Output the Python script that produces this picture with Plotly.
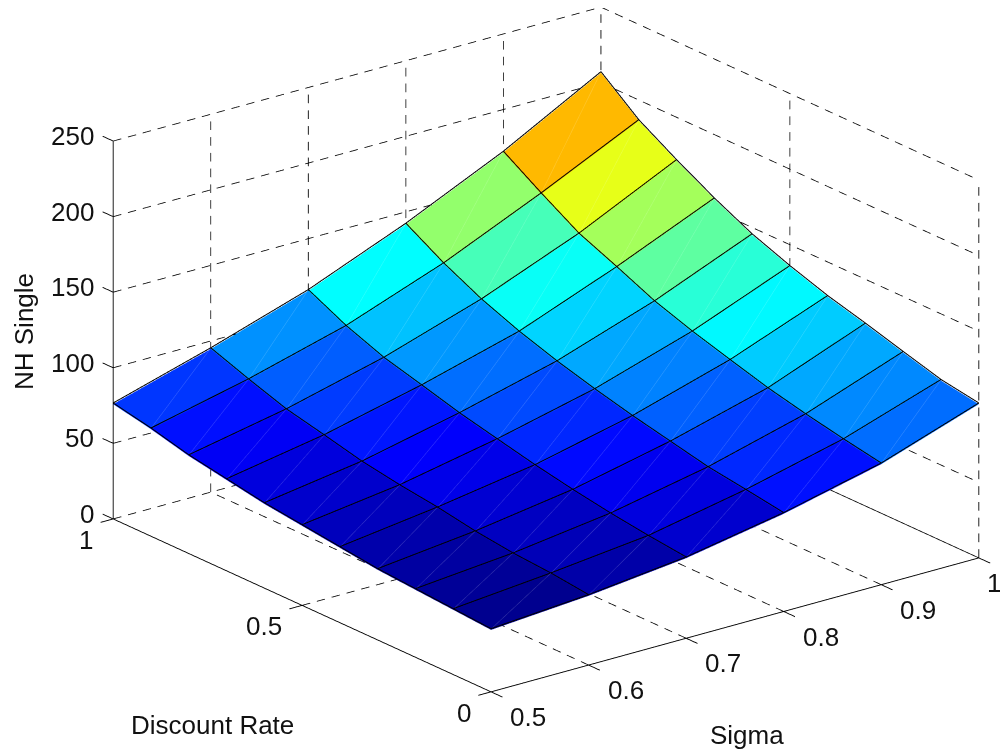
import math
import plotly.graph_objects as go

sigma = [0.5, 0.6, 0.7, 0.8, 0.9, 1.0]
discount_rate = [0.0, 0.1, 0.2, 0.3, 0.4, 0.5, 0.6, 0.7, 0.8, 0.9, 1.0]
nh_sigma_05 = [41.0, 42.8, 44.6, 46.4, 49.5, 52.6, 55.7, 60.1, 64.5, 70.8, 75.9]
nh_sigma_06 = [45.8, 48.7, 50.5, 53.6, 58.0, 61.3, 65.5, 71.5, 77.2, 85.6, 94.7]
nh_sigma_07 = [53.0, 55.8, 59.2, 63.4, 68.3, 74.0, 79.8, 86.8, 93.6, 103.2, 115.5]
nh_sigma_08 = [64.6, 68.5, 72.1, 77.6, 83.1, 89.4, 96.4, 104.6, 114.5, 126.9, 141.7]
nh_sigma_09 = [79.7, 84.3, 89.4, 95.2, 102.4, 109.8, 118.4, 129.6, 140.3, 155.5, 171.6]
nh_sigma_10 = [101.7, 105.8, 112.9, 120.2, 127.0, 135.4, 145.0, 157.3, 171.2, 186.2, 206.5]
columns = [nh_sigma_05, nh_sigma_06, nh_sigma_07, nh_sigma_08, nh_sigma_09, nh_sigma_10]

sigma_ticks = [0.5, 0.6, 0.7, 0.8, 0.9, 1.0]
sigma_tick_labels = ["0.5", "0.6", "0.7", "0.8", "0.9", "1"]
rate_ticks = [0.0, 0.5, 1.0]
rate_tick_labels = ["0", "0.5", "1"]
nh_ticks = [0, 50, 100, 150, 200, 250]
nh_tick_labels = ["0", "50", "100", "150", "200", "250"]

jet_stops = [(0, (0, 0, 143)), (0.125, (0, 0, 255)), (0.375, (0, 255, 255)),
             (0.625, (255, 255, 0)), (0.875, (255, 0, 0)), (1, (128, 0, 0))]
jet = [[p, "rgb(%d,%d,%d)" % c] for p, c in jet_stops]

FONT = "Liberation Sans, Arial, sans-serif"
W, H = 1008, 744
BOX = 617 / 372  # scene units for the sigma and discount-rate edges
PERIOD = 15.5


def jet_rgb(f):
    for (p0, c0), (p1, c1) in zip(jet_stops, jet_stops[1:]):
        if f <= p1:
            t = (f - p0) / (p1 - p0)
            return [c0[i] + (c1[i] - c0[i]) * t for i in range(3)]
    return list(jet_stops[-1][1])


def screen_len(p, q):
    ds, dd, dz = q[0] - p[0], q[1] - p[1], q[2] - p[2]
    return math.hypot(976 * ds - 378 * dd, 268 * ds + 173 * dd + 1.512 * dz)


def add_dashed(xs, ys, zs, p, q):
    n = max(1, round(screen_len(p, q) / PERIOD))
    for i in range(n):
        t0 = i / n
        t1 = (i + 0.55) / n
        for t in (t0, t1):
            xs.append(p[0] + (q[0] - p[0]) * t)
            ys.append(p[1] + (q[1] - p[1]) * t)
            zs.append(p[2] + (q[2] - p[2]) * t)
        xs.append(None); ys.append(None); zs.append(None)


def add_solid(xs, ys, zs, p, q):
    xs += [p[0], q[0], None]
    ys += [p[1], q[1], None]
    zs += [p[2], q[2], None]


# surface
ns, nd = len(sigma), len(discount_rate)
vx, vy, vz = [], [], []
for a in range(ns):
    for b in range(nd):
        vx.append(sigma[a]); vy.append(discount_rate[b]); vz.append(columns[a][b])
idx = lambda a, b: a * nd + b
ti, tj, tk, cell = [], [], [], []
for a in range(ns - 1):
    for b in range(nd - 1):
        ti += [idx(a, b), idx(a, b)]
        tj += [idx(a + 1, b), idx(a + 1, b + 1)]
        tk += [idx(a + 1, b + 1), idx(a, b + 1)]
        cell += [columns[a][b], columns[a][b]]

zmin = min(min(c) for c in columns)
zmax = max(max(c) for c in columns)

surface = go.Mesh3d(x=vx, y=vy, z=vz, i=ti, j=tj, k=tk, intensity=cell, intensitymode="cell",
                    colorscale=jet, cmin=zmin, cmax=zmax, showscale=False, flatshading=True,
                    lighting=dict(ambient=1, diffuse=0, specular=0, roughness=1, fresnel=0),
                    hoverinfo="skip")

LIFT = 0.8
ex, ey, ez = [], [], []
for a in range(ns):
    for b in range(nd - 1):
        add_solid(ex, ey, ez, (sigma[a], discount_rate[b], columns[a][b] + LIFT),
                  (sigma[a], discount_rate[b + 1], columns[a][b + 1] + LIFT))
for b in range(nd):
    for a in range(ns - 1):
        add_solid(ex, ey, ez, (sigma[a], discount_rate[b], columns[a][b] + LIFT),
                  (sigma[a + 1], discount_rate[b], columns[a + 1][b] + LIFT))
edges = go.Scatter3d(x=ex, y=ey, z=ez, mode="lines", line=dict(color="black", width=2), hoverinfo="skip")

# faint seam along each facet, a paler tint of that facet's colour
fx, fy, fz, fc = [], [], [], []
for a in range(ns - 1):
    for b in range(nd - 1):
        add_solid(fx, fy, fz, (sigma[a], discount_rate[b], columns[a][b] + LIFT * 0.7),
                  (sigma[a + 1], discount_rate[b + 1], columns[a + 1][b + 1] + LIFT * 0.7))
        base = jet_rgb((columns[a][b] - zmin) / (zmax - zmin))
        tint = "rgb(%d,%d,%d)" % tuple(0.8 * c + 0.2 * 255 for c in base)
        fc += [tint, tint, tint]
diagonals = go.Scatter3d(x=fx, y=fy, z=fz, mode="lines", line=dict(color=fc, width=1.1), hoverinfo="skip")

# dashed grid on the floor and the two back walls
S0, S1 = sigma_ticks[0], sigma_ticks[-1]
D0, D1 = rate_ticks[0], rate_ticks[-1]
Z0, Z1 = nh_ticks[0], nh_ticks[-1]
gx, gy, gz = [], [], []
for s in sigma_ticks:
    if s != S0:
        add_dashed(gx, gy, gz, (s, D0, Z0), (s, D1, Z0))
        add_dashed(gx, gy, gz, (s, D1, Z0), (s, D1, Z1))
for d in rate_ticks:
    if d != D0:
        add_dashed(gx, gy, gz, (S0, d, Z0), (S1, d, Z0))
    add_dashed(gx, gy, gz, (S1, d, Z0), (S1, d, Z1))
for v in nh_ticks:
    add_dashed(gx, gy, gz, (S0, D1, v), (S1, D1, v))
    add_dashed(gx, gy, gz, (S1, D1, v), (S1, D0, v))
grid = go.Scatter3d(x=gx, y=gy, z=gz, mode="lines", line=dict(color="#000000", width=1.6), hoverinfo="skip")

# solid axes and ticks
ax, ay, az = [], [], []
add_solid(ax, ay, az, (S0, D0, Z0), (S1, D0, Z0))
add_solid(ax, ay, az, (S0, D0, Z0), (S0, D1, Z0))
add_solid(ax, ay, az, (S0, D1, Z0), (S0, D1, Z1))
for s in sigma_ticks:
    add_solid(ax, ay, az, (s, D0, Z0), (s, D0 - 0.03, Z0))
for d in rate_ticks:
    add_solid(ax, ay, az, (S0, d, Z0), (S0 - 0.013, d, Z0))
for v in nh_ticks:
    add_solid(ax, ay, az, (S0, D1, v), (S0, D1 + 0.028, v))
axes_lines = go.Scatter3d(x=ax, y=ay, z=az, mode="lines", line=dict(color="#000000", width=1.8), hoverinfo="skip")

fig = go.Figure([surface, grid, axes_lines, edges, diagonals])

# tick labels anchored to the 3D scales
tick_font = dict(family=FONT, size=26, color="#111111")
ann = []
for s, t in zip(sigma_ticks, sigma_tick_labels):
    ann.append(dict(x=s, y=D0, z=Z0, text=t, showarrow=False, font=tick_font, xanchor="left",
                    xshift=6 if t == "1" else 17, yshift=-25))
for d, t in zip(rate_ticks, rate_tick_labels):
    ann.append(dict(x=S0, y=d, z=Z0, text=t, showarrow=False, font=tick_font, xanchor="right", xshift=-18, yshift=-21))
for v, t in zip(nh_ticks, nh_tick_labels):
    ann.append(dict(x=S0, y=D1, z=v, text=t, showarrow=False, font=tick_font, xanchor="right", xshift=-17, yshift=5))

PAD = 0.05
el = math.asin(0.3545)
a_, b_ = 0.6124, 0.7906
DIST = 3.0
SHIFT_R, SHIFT_U = 34 / 372, 30.5 / 372
r_vec = (b_, -a_, 0.0)
u_vec = (a_ * math.sin(el), b_ * math.sin(el), math.cos(el))
center = tuple(-SHIFT_R * r_vec[i] - SHIFT_U * u_vec[i] for i in range(3))
dir_vec = (-a_ * math.cos(el), -b_ * math.cos(el), math.sin(el))
eye = tuple(center[i] + DIST * dir_vec[i] for i in range(3))

title_font = dict(family=FONT, size=26, color="#111111")
fig.update_layout(
    width=W, height=H, autosize=False,
    margin=dict(l=0, r=0, t=0, b=0),
    paper_bgcolor="white", showlegend=False,
    scene=dict(
        domain=dict(x=[0, 1], y=[0, 1]),
        aspectmode="manual",
        aspectratio=dict(x=BOX * (1 + 2 * PAD), y=BOX * (1 + 2 * PAD), z=BOX * 0.655 * (1 + 2 * PAD)),
        xaxis=dict(range=[S0 - PAD * 0.5, S1 + PAD * 0.5], visible=False),
        yaxis=dict(range=[D0 - PAD, D1 + PAD], visible=False),
        zaxis=dict(range=[Z0 - PAD * 250, Z1 + PAD * 250], visible=False),
        camera=dict(eye=dict(x=eye[0], y=eye[1], z=eye[2]),
                    center=dict(x=center[0], y=center[1], z=center[2]),
                    up=dict(x=0, y=0, z=1),
                    projection=dict(type="orthographic")),
        annotations=ann,
        bgcolor="white",
    ),
    annotations=[
        dict(text="NH Single", x=16 / W, y=1 - 324 / H, xref="paper", yref="paper", textangle=-90,
             xanchor="center", yanchor="middle", showarrow=False, font=title_font),
        dict(text="Discount Rate", x=204 / W, y=1 - 717 / H, xref="paper", yref="paper",
             xanchor="center", yanchor="middle", showarrow=False, font=title_font),
        dict(text="Sigma", x=739 / W, y=1 - 727 / H, xref="paper", yref="paper",
             xanchor="center", yanchor="middle", showarrow=False, font=title_font),
    ],
)

fig.write_html("out.html")
